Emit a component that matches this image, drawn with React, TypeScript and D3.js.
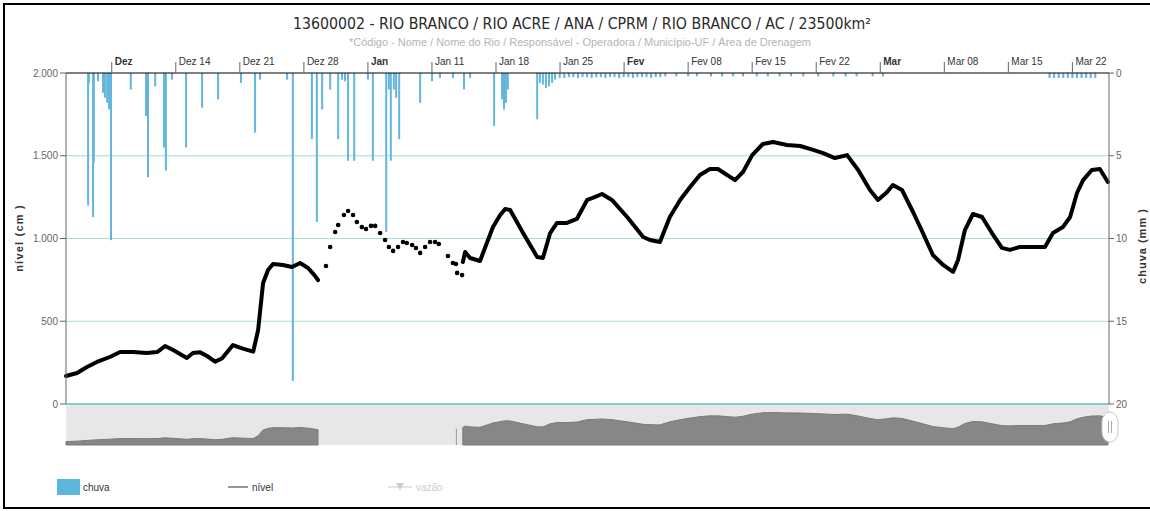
import React from 'react';
import * as d3 from 'd3';

const W = 1150;
const H = 511;

const titleText = '13600002 - RIO BRANCO / RIO ACRE / ANA / CPRM / RIO BRANCO / AC / 23500km²';
const subtitleText = '*Código - Nome / Nome do Rio / Responsável - Operadora / Município-UF / Área de Drenagem';

// nível (cm) – first continuous stretch
const nivelTrecho1: [string, number][] = [
  ['2014-12-02T00', 169], ['2014-12-03T05', 187], ['2014-12-04T07', 224], ['2014-12-05T09', 254],
  ['2014-12-06T19', 284], ['2014-12-07T22', 314], ['2014-12-09T08', 314], ['2014-12-10T20', 308],
  ['2014-12-11T23', 314], ['2014-12-12T20', 350], ['2014-12-13T17', 326], ['2014-12-15T05', 278],
  ['2014-12-15T21', 308], ['2014-12-16T16', 312], ['2014-12-17T10', 290], ['2014-12-18T07', 256],
  ['2014-12-19T01', 275], ['2014-12-20T06', 356], ['2014-12-21T08', 335], ['2014-12-22T11', 316],
  ['2014-12-23T00', 447], ['2014-12-23T13', 731], ['2014-12-24T02', 810], ['2014-12-24T15', 846],
  ['2014-12-25T17', 840], ['2014-12-26T17', 828], ['2014-12-27T14', 852], ['2014-12-28T11', 822],
  ['2014-12-29T03', 780], ['2014-12-29T13', 749],
];

// nível (cm) – sparse readings shown as points
const nivelPontos: [string, number][] = [
  ['2014-12-30T10', 834], ['2014-12-30T21', 949], ['2014-12-31T10', 1039], ['2014-12-31T18', 1082],
  ['2015-01-01T09', 1142], ['2015-01-01T20', 1166], ['2015-01-02T09', 1142], ['2015-01-02T19', 1100],
  ['2015-01-03T08', 1069], ['2015-01-03T19', 1057], ['2015-01-04T08', 1076], ['2015-01-04T19', 1076],
  ['2015-01-05T08', 1033], ['2015-01-05T21', 991], ['2015-01-06T07', 949], ['2015-01-06T18', 925],
  ['2015-01-07T07', 949], ['2015-01-07T20', 979], ['2015-01-08T06', 973], ['2015-01-08T20', 961],
  ['2015-01-09T06', 943], ['2015-01-09T17', 913], ['2015-01-10T06', 949], ['2015-01-10T19', 979],
  ['2015-01-11T08', 979], ['2015-01-11T18', 967], ['2015-01-12T18', 894], ['2015-01-13T07', 852],
  ['2015-01-13T15', 846], ['2015-01-13T18', 792], ['2015-01-14T07', 779],
];

// nível (cm) – second continuous stretch
const nivelTrecho2: [string, number][] = [
  ['2015-01-14T09', 858], ['2015-01-14T15', 918], ['2015-01-15T04', 882], ['2015-01-16T06', 864],
  ['2015-01-16T19', 943], ['2015-01-17T16', 1069], ['2015-01-18T11', 1142], ['2015-01-19T00', 1178],
  ['2015-01-19T13', 1172], ['2015-01-20T23', 1033], ['2015-01-22T12', 888], ['2015-01-23T03', 882],
  ['2015-01-23T22', 1033], ['2015-01-24T16', 1094], ['2015-01-25T18', 1094], ['2015-01-26T20', 1118],
  ['2015-01-27T23', 1233], ['2015-01-28T14', 1245], ['2015-01-29T14', 1269], ['2015-01-30T16', 1233],
  ['2015-02-01T08', 1130], ['2015-02-03T02', 1009], ['2015-02-03T20', 991], ['2015-02-04T22', 979],
  ['2015-02-06T00', 1130], ['2015-02-07T03', 1233], ['2015-02-08T05', 1311], ['2015-02-09T07', 1384],
  ['2015-02-10T09', 1420], ['2015-02-11T06', 1420], ['2015-02-13T03', 1353], ['2015-02-14T00', 1402],
  ['2015-02-15T00', 1504], ['2015-02-16T04', 1571], ['2015-02-17T07', 1583], ['2015-02-18T19', 1565],
  ['2015-02-20T06', 1559], ['2015-02-21T16', 1535], ['2015-02-22T18', 1516], ['2015-02-24T01', 1486],
  ['2015-02-25T09', 1504], ['2015-02-26T14', 1414], ['2015-02-27T21', 1293], ['2015-02-28T18', 1233],
  ['2015-03-01T18', 1281], ['2015-03-02T09', 1323], ['2015-03-03T09', 1293], ['2015-03-04T14', 1160],
  ['2015-03-05T16', 1033], ['2015-03-06T18', 900], ['2015-03-07T21', 840], ['2015-03-08T23', 798],
  ['2015-03-09T12', 870], ['2015-03-10T06', 1051], ['2015-03-11T03', 1148], ['2015-03-12T03', 1130],
  ['2015-03-13T05', 1033], ['2015-03-14T07', 943], ['2015-03-15T04', 931], ['2015-03-16T06', 949],
  ['2015-03-17T17', 949], ['2015-03-19T00', 949], ['2015-03-19T21', 1033], ['2015-03-20T23', 1069],
  ['2015-03-21T18', 1130], ['2015-03-22T12', 1275], ['2015-03-23T04', 1353], ['2015-03-24T03', 1414],
  ['2015-03-25T00', 1420], ['2015-03-25T21', 1341],
];

// chuva (mm)
const chuva: [string, number][] = [
  ['2014-12-04T10', 8.0], ['2014-12-04T12', 0.6], ['2014-12-04T23', 8.7], ['2014-12-05T01', 5.4],
  ['2014-12-05T12', 0.5], ['2014-12-06T01', 1.2], ['2014-12-06T06', 1.5], ['2014-12-06T12', 1.8],
  ['2014-12-06T17', 2.2], ['2014-12-06T22', 10.1], ['2014-12-09T02', 1.0], ['2014-12-10T18', 2.6],
  ['2014-12-10T23', 6.3], ['2014-12-11T18', 0.8], ['2014-12-12T17', 4.5], ['2014-12-12T22', 5.9],
  ['2014-12-13T14', 0.4], ['2014-12-15T03', 4.5], ['2014-12-16T21', 2.1], ['2014-12-18T15', 1.6],
  ['2014-12-21T03', 0.6], ['2014-12-22T16', 3.6], ['2014-12-23T05', 0.4], ['2014-12-26T04', 0.4],
  ['2014-12-26T19', 18.6], ['2014-12-28T21', 4.0], ['2014-12-29T10', 9.0], ['2014-12-30T00', 2.2],
  ['2014-12-30T21', 1.0], ['2014-12-31T18', 4.0], ['2015-01-01T04', 0.4], ['2015-01-01T12', 0.5],
  ['2015-01-01T20', 5.3], ['2015-01-02T12', 5.3], ['2015-01-04T00', 0.4], ['2015-01-04T13', 5.3],
  ['2015-01-06T00', 9.6], ['2015-01-06T07', 1.0], ['2015-01-06T12', 5.3], ['2015-01-06T20', 1.0],
  ['2015-01-07T02', 1.5], ['2015-01-07T10', 4.0], ['2015-01-09T17', 1.8], ['2015-01-11T00', 0.5],
  ['2015-01-11T21', 0.3], ['2015-01-13T07', 0.3], ['2015-01-14T12', 1.0], ['2015-01-15T04', 0.3],
  ['2015-01-17T19', 3.2], ['2015-01-18T16', 1.6], ['2015-01-18T21', 2.2], ['2015-01-19T02', 1.8],
  ['2015-01-19T07', 1.0], ['2015-01-22T12', 2.8], ['2015-01-22T19', 0.6], ['2015-01-23T03', 0.7],
  ['2015-01-23T11', 0.9], ['2015-01-23T19', 0.8], ['2015-01-24T03', 0.6], ['2015-01-24T11', 0.4],
  ['2015-01-24T23', 0.3], ['2015-01-25T11', 0.3], ['2015-01-25T23', 0.25], ['2015-01-26T11', 0.25],
  ['2015-01-26T23', 0.3], ['2015-01-27T11', 0.25], ['2015-01-27T23', 0.25], ['2015-01-28T11', 0.3],
  ['2015-01-28T23', 0.25], ['2015-01-29T11', 0.25], ['2015-01-29T23', 0.3], ['2015-01-30T11', 0.25],
  ['2015-01-30T23', 0.25], ['2015-01-31T11', 0.3], ['2015-01-31T23', 0.25], ['2015-02-01T11', 0.25],
  ['2015-02-01T23', 0.3], ['2015-02-02T11', 0.25], ['2015-02-02T23', 0.25], ['2015-02-03T11', 0.25],
  ['2015-02-03T23', 0.3], ['2015-02-04T11', 0.25], ['2015-02-04T23', 0.25],
  ['2015-02-05T12', 0.2], ['2015-02-06T17', 0.2], ['2015-02-08T00', 0.2], ['2015-02-08T23', 0.2],
  ['2015-02-10T12', 0.2], ['2015-02-11T17', 0.2], ['2015-02-12T22', 0.2], ['2015-02-14T00', 0.2],
  ['2015-02-15T12', 0.2], ['2015-02-16T17', 0.2], ['2015-02-18T00', 0.2], ['2015-02-19T06', 0.2],
  ['2015-02-20T14', 0.2], ['2015-02-22T05', 0.2], ['2015-02-23T21', 0.2], ['2015-02-25T05', 0.2],
  ['2015-02-26T10', 0.2], ['2015-02-28T04', 0.2], ['2015-03-01T07', 0.2],
  ['2015-03-19T12', 0.3], ['2015-03-20T00', 0.3], ['2015-03-20T12', 0.3], ['2015-03-21T00', 0.3],
  ['2015-03-21T12', 0.3], ['2015-03-22T00', 0.3], ['2015-03-22T12', 0.3], ['2015-03-23T00', 0.3],
  ['2015-03-23T12', 0.3], ['2015-03-24T00', 0.3], ['2015-03-24T12', 0.3],
];

const nivelTicks = [0, 500, 1000, 1500, 2000];
const chuvaTicks = [0, 5, 10, 15, 20];
const xTickDates = [
  '2014-12-07', '2014-12-14', '2014-12-21', '2014-12-28', '2015-01-04', '2015-01-11', '2015-01-18',
  '2015-01-25', '2015-02-01', '2015-02-08', '2015-02-15', '2015-02-22', '2015-03-01', '2015-03-08',
  '2015-03-15', '2015-03-22',
];
const xTickLabels = [
  'Dez', 'Dez 14', 'Dez 21', 'Dez 28', 'Jan', 'Jan 11', 'Jan 18', 'Jan 25', 'Fev', 'Fev 08', 'Fev 15',
  'Fev 22', 'Mar', 'Mar 08', 'Mar 15', 'Mar 22',
];
const xDomain = ['2014-12-02T00', '2015-03-26T00'];

const parseT = d3.utcParse('%Y-%m-%dT%H');
const parseD = d3.utcParse('%Y-%m-%d');
const ptBR = d3.formatLocale({ decimal: ',', thousands: '.', grouping: [3], currency: ['R$', ''] });
const fmt = ptBR.format(',');

const FONT = "'Liberation Sans', Arial, sans-serif";
const TITLE_FONT = "'DejaVu Sans', Verdana, sans-serif";

export default function App() {
  const left = 66, right = 1109, top = 73, bottom = 404;
  const navTop = 405, navBottom = 445;

  const x = d3.scaleUtc().domain(xDomain.map((s) => parseT(s) as Date)).range([left, right]);
  const yN = d3.scaleLinear().domain([0, 2000]).range([bottom, top]);
  const yC = d3.scaleLinear().domain([0, 20]).range([top, bottom]);
  const yNav = d3.scaleLinear().domain([0, 1950]).range([navBottom, navTop]);

  const line = d3
    .line<[string, number]>()
    .x((d) => x(parseT(d[0]) as Date))
    .y((d) => yN(d[1]));
  const navArea = d3
    .area<[string, number]>()
    .x((d) => x(parseT(d[0]) as Date))
    .y0(navBottom)
    .y1((d) => yNav(d[1]));

  const gridColor = '#a9dcdc';

  return (
    <svg width={W} height={H} style={{ position: 'absolute', left: 0, top: 0, background: '#fff' }} fontFamily={FONT}>
      <rect x={0} y={0} width={W} height={H} fill="#fff" />
      {/* frame */}
      <rect x={4} y={4} width={W + 10} height={504} fill="none" stroke="#000" strokeWidth={2} />

      {/* title */}
      <text x={582} y={29} textAnchor="middle" fontSize={16} fill="#2a2a2a" fontFamily={TITLE_FONT} textLength={578} lengthAdjust="spacingAndGlyphs">
        {titleText}
      </text>
      <text x={580} y={46} textAnchor="middle" fontSize={11} fill="#b4b4b4" textLength={462} lengthAdjust="spacingAndGlyphs">
        {subtitleText}
      </text>

      {/* grid lines */}
      {nivelTicks.filter((t) => t > 0 && t < 2000).map((t) => (
        <line key={'g' + t} x1={left} x2={right} y1={yN(t)} y2={yN(t)} stroke={gridColor} strokeWidth={1} />
      ))}

      {/* navigator */}
      <rect x={left} y={navTop} width={right - left} height={navBottom - navTop} fill="#e7e7e9" />
      <path d={navArea(nivelTrecho1) || ''} fill="#878787" stroke="#7a7a7a" strokeWidth={1} />
      <path d={navArea(nivelTrecho2) || ''} fill="#878787" stroke="#7a7a7a" strokeWidth={1} />
      <line x1={x(parseT('2015-01-13T16') as Date)} x2={x(parseT('2015-01-13T16') as Date)} y1={yNav(800)} y2={navBottom} stroke="#999" strokeWidth={1} />

      {/* chuva bars */}
      {chuva.map((d, i) => {
        const cx = x(parseT(d[0]) as Date);
        return <rect key={'c' + i} x={cx - 1} y={top} width={2} height={yC(d[1]) - top} fill="#62b5dc" />;
      })}

      {/* zero line */}
      <line x1={left} x2={right} y1={yN(0)} y2={yN(0)} stroke="#86cccc" strokeWidth={2} />

      {/* nível line */}
      <path d={line(nivelTrecho1) || ''} fill="none" stroke="#000" strokeWidth={4} strokeLinejoin="round" strokeLinecap="round" />
      <path d={line(nivelTrecho2) || ''} fill="none" stroke="#000" strokeWidth={4} strokeLinejoin="round" strokeLinecap="round" />
      {nivelPontos.map((d, i) => (
        <circle key={'p' + i} cx={x(parseT(d[0]) as Date)} cy={yN(d[1])} r={2.3} fill="#000" />
      ))}

      {/* left axis */}
      <line x1={left} x2={left} y1={top} y2={bottom} stroke="#666" strokeWidth={1} />
      {nivelTicks.map((t) => (
        <g key={'l' + t}>
          <line x1={left - 6} x2={left} y1={yN(t)} y2={yN(t)} stroke="#666" />
          <text x={left - 8} y={yN(t) + 3.5} textAnchor="end" fontSize={10} fill="#666">
            {fmt(t)}
          </text>
        </g>
      ))}
      <text transform={`translate(23,238) rotate(-90)`} textAnchor="middle" fontSize={11} fontWeight="bold" fill="#333" letterSpacing={1.2}>
        nível (cm )
      </text>

      {/* right axis */}
      <line x1={right} x2={right} y1={top} y2={bottom} stroke="#666" strokeWidth={1} />
      {chuvaTicks.map((t) => (
        <g key={'r' + t}>
          <line x1={right} x2={right + 5} y1={yC(t)} y2={yC(t)} stroke="#666" />
          <text x={right + 7} y={yC(t) + 3.5} textAnchor="start" fontSize={10} fill="#666">
            {t}
          </text>
        </g>
      ))}
      <text transform={`translate(1146,246) rotate(-90)`} textAnchor="middle" fontSize={11} fontWeight="bold" fill="#333" letterSpacing={1}>
        chuva (mm )
      </text>

      {/* top axis */}
      <line x1={left} x2={right} y1={top} y2={top} stroke="#000" strokeWidth={1} />
      {xTickDates.map((s, i) => {
        const tx = x(parseD(s) as Date);
        const bold = !/\d/.test(xTickLabels[i]);
        return (
          <g key={'x' + i}>
            <line x1={tx} x2={tx} y1={top} y2={top - 11} stroke="#666" />
            <text x={tx + 3} y={top - 8} fontSize={10} fill="#333" fontWeight={bold ? 'bold' : 'normal'}>
              {xTickLabels[i]}
            </text>
          </g>
        );
      })}

      {/* navigator handle */}
      <rect x={1102} y={412} width={16} height={30} rx={8} ry={10} fill="#fff" stroke="#c8c8c8" />
      <line x1={1108.5} x2={1108.5} y1={421} y2={433} stroke="#aaa" />
      <line x1={1111.5} x2={1111.5} y1={421} y2={433} stroke="#aaa" />

      {/* legend */}
      <rect x={57} y={479} width={23} height={16} fill="#5eb5dc" />
      <text x={83} y={491} fontSize={10} fill="#333">chuva</text>
      <line x1={228} x2={248} y1={487} y2={487} stroke="#333" strokeWidth={1} />
      <text x={252} y={491} fontSize={10} fill="#333">nível</text>
      <line x1={388} x2={412} y1={487} y2={487} stroke="#ccc" strokeWidth={1} />
      <path d="M396,483 L404,483 L400,490 Z" fill="#ccc" />
      <text x={416} y={491} fontSize={10} fill="#ccc">vazão</text>
    </svg>
  );
}
